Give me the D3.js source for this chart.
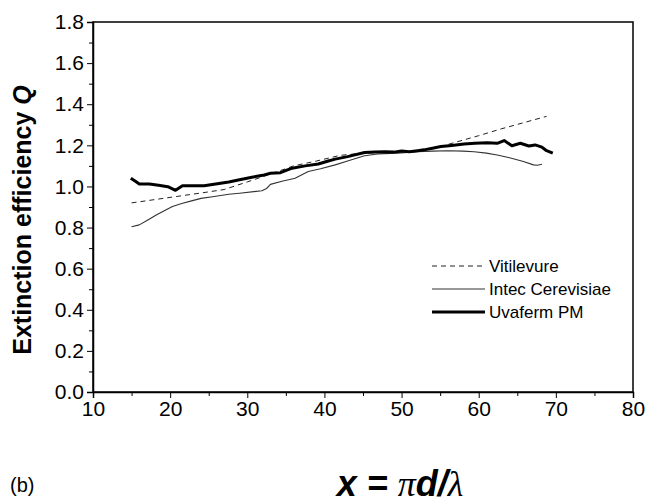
<!DOCTYPE html>
<html>
<head>
<meta charset="utf-8">
<script src="https://cdn.jsdelivr.net/npm/d3@7"></script>
<style>
  body { margin: 0; background: #fff; }
  svg { font-family: "Liberation Sans", Arial, sans-serif; display: block; }
  .tick line, .domain { stroke: #000; }
</style>
</head>
<body>
<svg width="645" height="500"></svg>
<script>
  // Vitilevure (dashed)
  const vitX = [15, 18, 21, 24, 27, 30, 33, 36, 39, 42, 45, 48, 51, 54, 57, 60, 63, 66, 68.8];
  const vitQ = [0.920, 0.936, 0.952, 0.968, 0.985, 1.022, 1.060, 1.100, 1.124, 1.151, 1.162, 1.165, 1.170, 1.183, 1.215, 1.247, 1.281, 1.312, 1.341];

  // Intec Cerevisiae (thin)
  const intX = [15, 16, 17, 18.2, 19.3, 20.3, 21.5, 22.9, 24, 25.5, 27.6, 29, 31.9, 32.5, 33, 34.5, 36.2, 37.9, 39.5, 41.4, 43, 45.2, 46.9, 49.5, 52, 54, 56, 58, 59.4, 61, 62.4, 64, 65.8, 67.1, 67.6, 68.2];
  const intQ = [0.804, 0.813, 0.834, 0.861, 0.883, 0.902, 0.917, 0.931, 0.942, 0.950, 0.962, 0.967, 0.979, 0.990, 1.010, 1.025, 1.040, 1.073, 1.086, 1.105, 1.124, 1.149, 1.158, 1.162, 1.169, 1.172, 1.174, 1.172, 1.169, 1.162, 1.153, 1.140, 1.121, 1.105, 1.103, 1.108];

  // Uvaferm PM (thick)
  const uvaX = [14.9, 15.5, 16, 17.3, 18.5, 19.7, 20.7, 21.6, 23, 24.4, 25.9, 27.6, 29, 30.6, 32, 33, 34.3, 35.8, 37.5, 39.2, 40.5, 41.4, 43, 45.2, 46.5, 47.8, 49, 50, 51, 52.1, 52.9, 54, 55.1, 56.5, 58.1, 59.5, 61.1, 62.4, 63.3, 64.3, 65.4, 66.5, 67.3, 68.2, 68.8, 69.6];
  const uvaQ = [1.040, 1.025, 1.012, 1.012, 1.006, 0.999, 0.981, 1.003, 1.003, 1.003, 1.012, 1.022, 1.033, 1.045, 1.054, 1.064, 1.067, 1.089, 1.100, 1.109, 1.124, 1.133, 1.145, 1.165, 1.167, 1.169, 1.167, 1.172, 1.169, 1.174, 1.178, 1.186, 1.194, 1.199, 1.206, 1.210, 1.213, 1.210, 1.223, 1.198, 1.210, 1.197, 1.202, 1.191, 1.174, 1.162];

  const xTicks = [10, 20, 30, 40, 50, 60, 70, 80];
  const yTicks = [0, 0.2, 0.4, 0.6, 0.8, 1.0, 1.2, 1.4, 1.6, 1.8];
  const seriesNames = ['Vitilevure', 'Intec Cerevisiae', 'Uvaferm PM'];

  const svg = d3.select('svg');
  const margin = {top: 22, right: 12, bottom: 108, left: 93};
  const width = +svg.attr('width');
  const height = +svg.attr('height');
  const innerWidth = width - margin.left - margin.right;
  const innerHeight = height - margin.top - margin.bottom;

  const xScale = d3.scaleLinear().domain([10, 80]).range([0, innerWidth]);
  const yScale = d3.scaleLinear().domain([0, 1.8]).range([innerHeight, 0]);

  const g = svg.append('g')
      .attr('transform', `translate(${margin.left},${margin.top})`);

  // frame
  g.append('rect')
      .attr('width', innerWidth)
      .attr('height', innerHeight)
      .attr('fill', 'none')
      .attr('stroke', '#000')
      .attr('stroke-width', 1.5);

  // minor ticks
  const yMinor = d3.axisLeft(yScale).tickValues(d3.range(0.1, 1.8, 0.2)).tickSize(4).tickFormat('');
  const xMinor = d3.axisBottom(xScale).tickValues(d3.range(15, 80, 10)).tickSize(4).tickFormat('');
  g.append('g').call(yMinor).call(a => a.select('.domain').remove());
  g.append('g').attr('transform', `translate(0,${innerHeight})`).call(xMinor)
      .call(a => a.select('.domain').remove());

  const yAxisG = g.append('g')
      .call(d3.axisLeft(yScale).tickValues(yTicks).tickSize(6).tickPadding(3).tickFormat(d3.format('.1f')))
      .attr('font-size', 21)
      .attr('font-family', '"Liberation Sans", Arial, sans-serif');
  yAxisG.select('.domain').attr('stroke-width', 1.5);
  yAxisG.selectAll('.tick text').attr('fill', '#000');

  const xAxisG = g.append('g')
      .attr('transform', `translate(0,${innerHeight})`)
      .call(d3.axisBottom(xScale).tickValues(xTicks).tickSize(6).tickPadding(3))
      .attr('font-size', 21)
      .attr('font-family', '"Liberation Sans", Arial, sans-serif');
  xAxisG.select('.domain').attr('stroke-width', 1.5);
  xAxisG.selectAll('.tick text').attr('fill', '#000');

  // axis titles
  const yTitle = svg.append('text')
      .attr('transform', 'translate(31,220) rotate(-90)')
      .attr('text-anchor', 'middle')
      .attr('font-size', 25)
      .attr('font-weight', 'bold');
  yTitle.append('tspan').text('Extinction efficiency ');
  yTitle.append('tspan').attr('font-style', 'italic').text('Q');

  const xTitle = svg.append('text')
      .attr('x', 400)
      .attr('y', 496)
      .attr('text-anchor', 'middle')
      .attr('font-size', 36)
      .attr('font-weight', 'bold')
      .attr('font-style', 'italic');
  xTitle.append('tspan').text('x = ');
  xTitle.append('tspan').attr('font-family', '"Liberation Serif", serif').attr('font-weight', 'normal').text('π');
  xTitle.append('tspan').text('d/');
  xTitle.append('tspan').attr('font-family', '"Liberation Serif", serif').attr('font-weight', 'normal').text('λ');

  svg.append('text')
      .attr('x', 10)
      .attr('y', 492)
      .attr('font-size', 20)
      .text('(b)');

  // lines
  const line = d3.line().x(d => xScale(d[0])).y(d => yScale(d[1]));
  const styles = [
    {color: '#222', width: 1, dash: '5,4'},
    {color: '#333', width: 1.1, dash: null},
    {color: '#000', width: 3, dash: null}
  ];
  const series = [
    d3.zip(vitX, vitQ),
    d3.zip(intX, intQ),
    d3.zip(uvaX, uvaQ)
  ];

  series.forEach((s, i) => {
    g.append('path')
        .datum(s)
        .attr('d', line)
        .attr('fill', 'none')
        .attr('stroke', styles[i].color)
        .attr('stroke-width', styles[i].width)
        .attr('stroke-dasharray', styles[i].dash)
        .attr('stroke-linejoin', 'round');
  });

  // legend
  const legend = svg.append('g').attr('transform', 'translate(432,266)');
  seriesNames.forEach((name, i) => {
    const row = legend.append('g').attr('transform', `translate(0,${i * 23})`);
    row.append('line')
        .attr('x1', 0).attr('x2', 53)
        .attr('stroke', styles[i].color)
        .attr('stroke-width', styles[i].width)
        .attr('stroke-dasharray', styles[i].dash);
    row.append('text')
        .attr('x', 57)
        .attr('dy', '0.35em')
        .attr('font-size', 17)
        .text(name);
  });
</script>
</body>
</html>
